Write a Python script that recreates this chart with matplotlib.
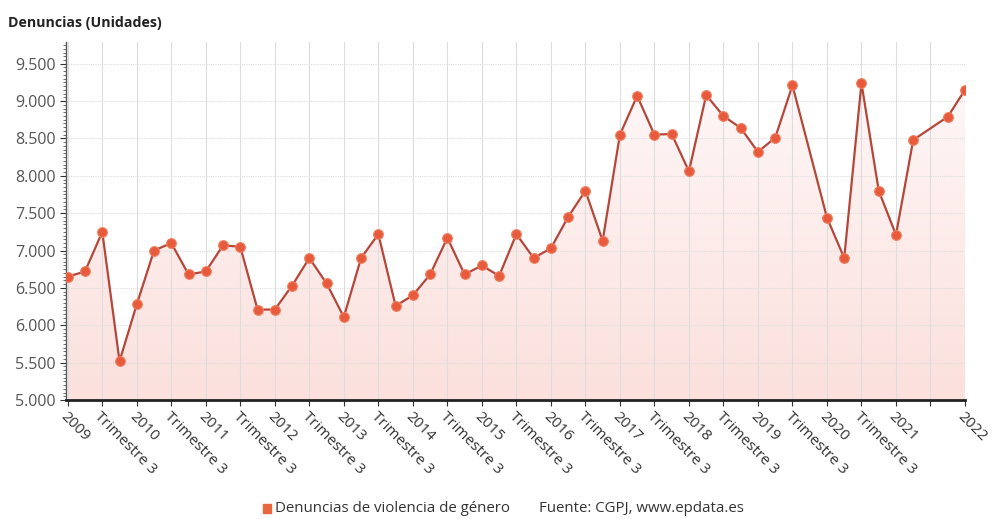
import numpy as np
import matplotlib.pyplot as plt
from matplotlib.ticker import FuncFormatter, MultipleLocator

plt.rcParams['font.family'] = ['Open Sans', 'DejaVu Sans']

# quarterly values 2009 Q1 .. 2022 Q1 (nan = no data)
denuncias = [6650, 6720, 7250, 5520,
             6280, 7000, 7100, 6680,
             6720, 7070, 7050, 6210,
             6210, 6530, 6900, 6560,
             6110, 6900, 7220, 6260,
             6400, 6680, 7170, 6680,
             6800, 6660, 7220, 6900,
             7030, 7450, 7800, 7130,
             8550, 9070, 8550, 8560,
             8060, 9080, 8800, 8640,
             8320, 8510, 9210, np.nan,
             7440, 6900, 9240, 7800,
             7210, 8480, np.nan, 8790,
             9150]
years = list(range(2009, 2023))
tick_labels = []
for y in years:
    tick_labels.append(str(y))
    if y < 2022:
        tick_labels.append('Trimestre 3' if y != 2021 else '')

vals = np.array(denuncias, dtype=float)
x = np.arange(len(vals))
ok = ~np.isnan(vals)

fig = plt.figure(figsize=(9.93, 5.19), dpi=100)
ax = fig.add_axes([0.0665, 0.2293, 0.9053, 0.6897])

# soft vertical gradient under the line
grad = np.linspace(1, 0, 256).reshape(-1, 1)
img = ax.imshow(grad, extent=[0, len(vals) - 1, 5000, 9790], aspect='auto',
                cmap=plt.matplotlib.colors.LinearSegmentedColormap.from_list('p', ['#fffafa', '#fbe0dd']),
                origin='lower', zorder=1)
poly = ax.fill_between(x[ok], vals[ok], 5000, color='none', lw=0)
img.set_clip_path(poly.get_paths()[0], transform=ax.transData)

ax.plot(x[ok], vals[ok], color='#b5473a', lw=1.6, zorder=3)
ax.plot(x[ok], vals[ok], 'o', color='#e85a3c', ms=7, mec='#f08060', mew=0.8, zorder=4)

ax.set_xlim(-0.1, len(vals) - 1)
ax.set_ylim(5000, 9790)
ax.set_xticks(np.arange(0, len(vals), 2))
ax.set_xticklabels(tick_labels, rotation=-45, ha='left', va='top',
                   rotation_mode='anchor', fontsize=11, color='#333333')
ax.set_yticks(np.arange(5000, 9501, 500))
ax.yaxis.set_major_formatter(FuncFormatter(lambda v, p: f'{int(v):,}'.replace(',', '.')))
ax.yaxis.set_minor_locator(MultipleLocator(50))
ax.tick_params(axis='y', labelsize=11.5, labelcolor='#555555', length=4, color='#333333')
ax.tick_params(axis='y', which='minor', length=2, color='#555555')
ax.tick_params(axis='x', length=4, color='#333333', pad=3)

ax.grid(axis='x', color='#dddddd', lw=0.8, zorder=2)
ax.grid(axis='y', color='#dddddd', lw=0.8, ls=(0, (1, 1)), zorder=2)
for s in ['top', 'right']:
    ax.spines[s].set_visible(False)
ax.spines['left'].set_color('#555555')
ax.spines['left'].set_linewidth(1)
ax.spines['bottom'].set_color('#222222')
ax.spines['bottom'].set_linewidth(2)
ax.spines['bottom'].set_zorder(5)

fig.text(0.008, 0.955, 'Denuncias (Unidades)', fontsize=10.2, fontweight='bold', color='#222222', va='center')

fig.patches.append(plt.Rectangle((0.265, 0.012), 0.008, 0.016, transform=fig.transFigure,
                                 color='#e8673f', figure=fig))
fig.text(0.277, 0.02, 'Denuncias de violencia de género', fontsize=10.8, color='#333333', va='center')
fig.text(0.543, 0.02, 'Fuente: CGPJ, www.epdata.es', fontsize=10.8, color='#333333', va='center')

fig.savefig('out.png', dpi=100)
